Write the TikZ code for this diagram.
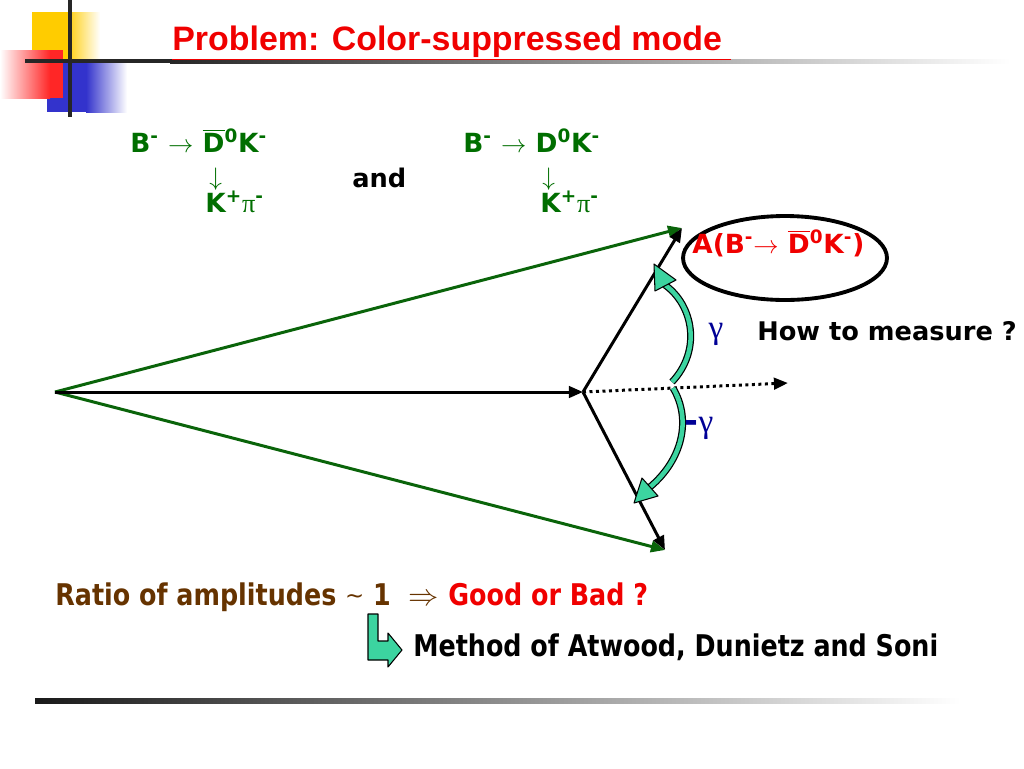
\documentclass[tikz,border=0pt]{standalone}
\usepackage{fontspec}
\setmainfont{Liberation Sans}
\newfontfamily\verdfont{DejaVu Sans}
\newfontfamily\condfont[FakeStretch=0.85]{DejaVu Sans}
\newfontfamily\grkfont{Liberation Serif}
\definecolor{slgreen}{RGB}{0,110,0}
\definecolor{sllinegreen}{RGB}{10,100,10}
\definecolor{slred}{RGB}{240,0,0}
\definecolor{slbrown}{RGB}{102,51,0}
\definecolor{slblue}{RGB}{0,0,150}
\definecolor{slteal}{RGB}{60,212,160}
\definecolor{slyellow}{RGB}{255,204,0}
\definecolor{slsqblue}{RGB}{51,51,204}
\usetikzlibrary{arrows.meta,positioning,shapes.geometric,calc}

\begin{document}
\begin{tikzpicture}[x=0.02cm,y=-0.02cm,
    vec/.style={line width=1.7pt,-{Triangle[length=8pt,width=6.5pt]}},
    decay/.style={anchor=base west,inner sep=0pt,text=slgreen,font=\verdfont\bfseries\fontsize{15}{17}\selectfont},
    downarr/.style={anchor=south west,inner sep=0pt,text=slgreen,font=\fontsize{15}{17}\selectfont},
    bigtxt/.style={anchor=base west,inner sep=0pt,font=\verdfont\bfseries\fontsize{14.6}{17}\selectfont},
    condtxt/.style={anchor=base west,inner sep=0pt,font=\condfont\bfseries\fontsize{17}{20}\selectfont},
    angarrow/.style={draw=black,fill=slteal,line width=0.6pt,line join=round}]
  \useasboundingbox (0,0) rectangle (1024,768);

  % corner squares and rules
  \fill[slyellow] (32,12) rectangle (66,60);
  \shade[left color=slyellow,right color=white] (66,12) rectangle (100,60);
  \fill[slsqblue] (47,63) rectangle (86,112);
  \shade[left color=slsqblue,right color=white] (86,63) rectangle (127,112);
  \shade[left color=white,right color=red!85] (0,50) rectangle (50,98);
  \fill[red!85] (50,50) rectangle (63,98);
  \fill[black!85] (68,0) rectangle (72,117);
  \fill[black!85] (25,59) rectangle (170,63);
  \shade[left color=black!85,right color=white] (170,59) rectangle (1010,63);
  \shade[left color=black!90,right color=white] (35,698) rectangle (960,703);

  % title
  \node[anchor=base west,inner sep=0pt,text=slred,font=\bfseries\fontsize{19.3}{22}\selectfont]
        (title) at (172,50) {\underline{Problem: Color-suppressed mode\ }};

  % the two decay chains
  \node[decay] (decA) at (130,152) {B\textsuperscript{-} $\rightarrow$ $\overline{\mbox{D}}$\textsuperscript{0}K\textsuperscript{-}};
  \node[downarr] (dnA) at (209,191) {$\downarrow$};
  \node[decay] (finA) at (205,212) {K\textsuperscript{+}{\grkfont\mdseries π}\textsuperscript{-}};
  \node[bigtxt] (and) at (352,187) {and};
  \node[decay] (decB) at (463,152) {B\textsuperscript{-} $\rightarrow$ D\textsuperscript{0}K\textsuperscript{-}};
  \node[downarr] (dnB) at (542,191) {$\downarrow$};
  \node[decay] (finB) at (540,212) {K\textsuperscript{+}{\grkfont\mdseries π}\textsuperscript{-}};

  % triangle of amplitudes
  \coordinate (O) at (55,392);
  \coordinate (P) at (583,392);
  \coordinate (Atip) at (682,228);
  \coordinate (Btip) at (665,550);
  \coordinate (dotend) at (788,383);
  \draw[vec,sllinegreen] (O) -- (Atip);
  \draw[vec,sllinegreen] (O) -- (Btip);
  \draw[vec] (O) -- (P);
  \draw[vec] (P) -- (Atip);
  \draw[vec] (P) -- (Btip);
  \draw[line width=1.7pt,dotted,-{Triangle[length=8pt,width=6.5pt]}] (P) -- (dotend);

  % amplitude bubble
  \node[draw,ellipse,line width=2.2pt,minimum width=4.08cm,minimum height=1.68cm] (amp) at (785,258) {};
  \node[bigtxt,text=slred,font=\verdfont\bfseries\fontsize{15}{17}\selectfont]
        (ampt) at (692,253) {A(B\textsuperscript{-}$\rightarrow$ $\overline{\mbox{D}}$\textsuperscript{0}K\textsuperscript{-})};

  % angle arrows
  \draw[line width=4pt] (672,382) .. controls (702,350) and (693,305) .. (665,285);
  \draw[line width=2.6pt,slteal] (672,382) .. controls (702,350) and (693,305) .. (665,285);
  \draw[angarrow] (654,264) -- (676,280) -- (655,291) -- cycle;
  \draw[line width=4pt] (673,388) .. controls (692,420) and (682,460) .. (650,487);
  \draw[line width=2.6pt,slteal] (673,388) .. controls (692,420) and (682,460) .. (650,487);
  \draw[angarrow] (634,503) -- (658,496) -- (642,478) -- cycle;
  \node[text=slblue,font=\grkfont\fontsize{19}{21}\selectfont] (gam) at (716,334) {γ};
  \node[text=slblue,font=\grkfont\fontsize{19}{21}\selectfont] (mgam) at (699,428) {{\verdfont\bfseries -}γ};
  \node[bigtxt] (how) at (757,340) {How to measure ?};

  % conclusion
  \node[condtxt,text=slbrown] (ratio) at (55,605) {Ratio of amplitudes {\verdfont\mdseries\fontsize{13}{15}\selectfont\raisebox{1pt}{\textasciitilde}} 1 \ $\Rightarrow$};
  \node[condtxt,text=slred,right=5pt of ratio.base east,anchor=base west] (good) {Good or Bad ?};
  \draw[angarrow] (368,614) -- (378,614) -- (378,641) -- (388,641) -- (388,633)
        -- (402,650) -- (388,667) -- (388,660) -- (368,660) -- cycle;
  \node[condtxt] (method) at (413,656) {Method of Atwood, Dunietz and Soni};
\end{tikzpicture}
\end{document}
